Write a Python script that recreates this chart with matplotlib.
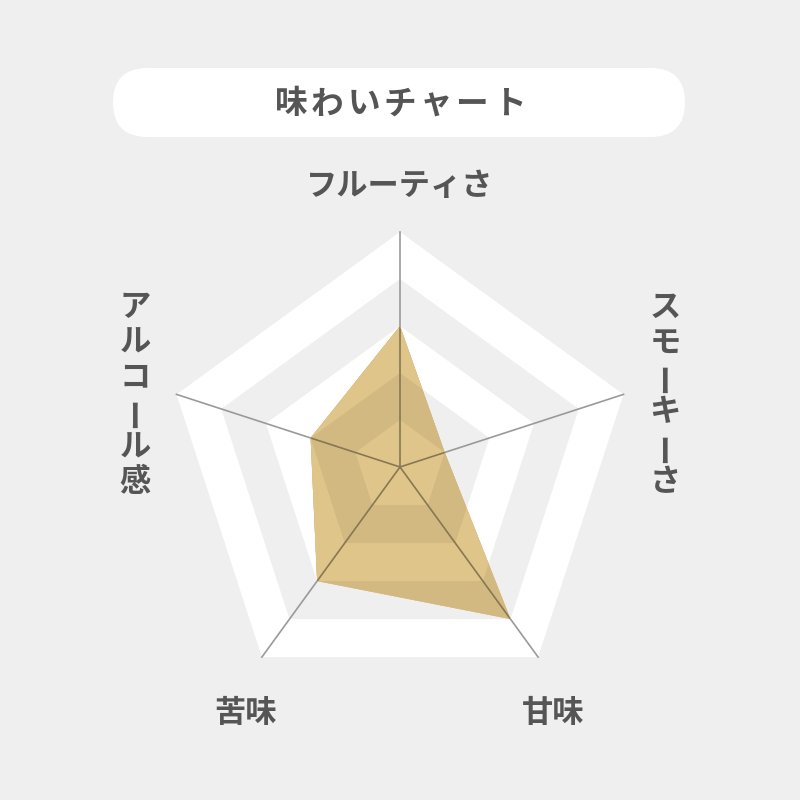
import matplotlib.pyplot as plt
import numpy as np
from matplotlib.colors import to_rgb
from matplotlib.patches import FancyBboxPatch

# --- データ ---------------------------------------------
TITLE = '味わいチャート'
categories = ['フルーティさ', 'スモーキーさ', '甘味', '苦味', 'アルコール感']
values = [3, 1, 4, 3, 2]
levels = [5, 4, 3, 2, 1]
max_level = 5

# --- 色 -------------------------------------------------
BG = '#efefef'
BAND = ['white', BG]      # 外側から交互
FILL = '#e0c58a'
SPOKE = '#9a9a9a'
TEXT = '#555555'


def mult(c1, c2):
    # 乗算合成の色
    return tuple(a * b for a, b in zip(to_rgb(c1), to_rgb(c2)))


plt.rcParams['font.family'] = ['Noto Sans CJK JP', 'DejaVu Sans']

fig = plt.figure(figsize=(8, 8), dpi=100, facecolor=BG)

# 背景用（ピクセル座標）
bg = fig.add_axes([0, 0, 1, 1], zorder=0)
bg.set_xlim(0, 800)
bg.set_ylim(800, 0)
bg.axis('off')

# タイトル（角丸の白帯）
bg.add_patch(FancyBboxPatch((113, 68), 572, 69,
                            boxstyle='round,pad=0,rounding_size=34.5',
                            fc='white', ec='none'))
for i, ch in enumerate(TITLE):
    bg.text(400 + (i - (len(TITLE) - 1) / 2) * 36.3, 104, ch, fontsize=23.5,
            fontweight='bold', color=TEXT, ha='center', va='center')

# --- レーダーチャート -----------------------------------
ax = fig.add_axes([165 / 800, 98 / 800, 470 / 800, 470 / 800],
                  projection='polar', zorder=1)
ax.set_theta_offset(np.pi / 2)
ax.set_theta_direction(-1)
ax.set_ylim(0, max_level)
ax.axis('off')
ax.patch.set_alpha(0)

n = len(categories)
angles = np.linspace(0, 2 * np.pi, n, endpoint=False)
closed = np.append(angles, angles[0])


def draw_grid(band_colors, line_color, clip=None, z=1):
    for i, lv in enumerate(levels):
        p, = ax.fill(closed, [lv] * (n + 1), color=band_colors[i % 2],
                     lw=0, zorder=z, clip_on=clip is not None)
        if clip is not None:
            p.set_clip_path(clip)
    for a in angles:
        l, = ax.plot([a, a], [0, max_level], color=line_color, lw=1.2,
                     zorder=z + 0.5, clip_on=clip is not None)
        if clip is not None:
            l.set_clip_path(clip)


draw_grid(BAND, SPOKE, z=1)

# 値の多角形（乗算合成風に重ねる）
poly, = ax.fill(closed, np.append(values, values[0]), color=FILL, lw=0, zorder=3)
draw_grid([mult(c, FILL) for c in BAND], mult(SPOKE, FILL), clip=poly, z=4)

# --- 軸ラベル -------------------------------------------
lab = dict(fontsize=22.5, fontweight='bold', color=TEXT, ha='center', va='center')
bg.text(400, 186, categories[0], **lab)
bg.text(553, 713, categories[2], **lab)
bg.text(246, 713, categories[3], **lab)


def vertical(x, yc, s):
    for i, ch in enumerate(s):
        y = yc + (i - (len(s) - 1) / 2) * 35
        rot = 90 if ch == 'ー' else 0
        bg.text(x, y, ch, rotation=rot, rotation_mode='anchor', **lab)


vertical(665, 395, categories[1])
vertical(135, 395, categories[4])

fig.savefig('out.png', dpi=100, facecolor=BG)
